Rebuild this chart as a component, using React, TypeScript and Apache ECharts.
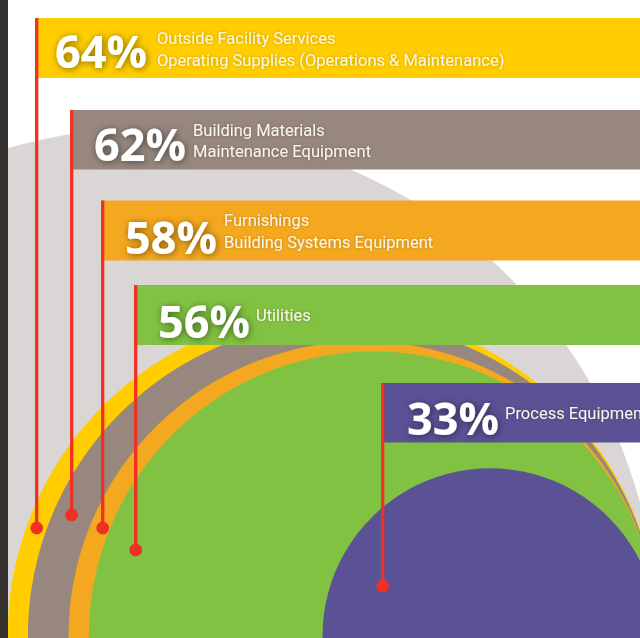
import React, { useEffect, useRef } from "react";
import * as echarts from "echarts";

// ---- data ----
const backgroundPct = 100;
const percentages = [64, 62, 58, 56, 33];
const labelLines: string[][] = [
  ["Outside Facility Services", "Operating Supplies (Operations & Maintenance)"],
  ["Building Materials", "Maintenance Equipment"],
  ["Furnishings", "Building Systems Equipment"],
  ["Utilities"],
  ["Process Equipment"],
];
const colors = ["#FFCD00", "#97877E", "#F4A81F", "#82C242", "#5A5294"];
const backgroundColor = "#DAD6D5";
const red = "#EE3124";

// ---- layout (pixels) ----
const lineX = [36.7, 71.7, 102.7, 135.7, 382.7];
const barTop = [18, 110, 200.5, 285, 383];
const barH = [60, 59.5, 60, 60, 59.5];
const dotY = [528, 515, 528, 550, 586];
const pctX = [55, 94, 125, 158, 407];
const pctY = [50, 143, 236, 320, 417];
const labelX = [157, 193, 224, 256, 505];
const labelY: number[][] = [[38, 60], [130, 151], [220, 242], [315], [413]];

// axis units: circles radius = percentage, all tangent at right
const X_MAX = 126;
const TANGENT_X = 129.5;

export default function App() {
  const ref = useRef<HTMLDivElement>(null);
  useEffect(() => {
    const chart = echarts.init(ref.current!, null, { renderer: "svg" });
    const W = 640, H = 638;
    const yMin = -0.4;
    const yMax = yMin + (H * X_MAX) / W;
    const circleData = [backgroundPct, ...percentages].map((p, i) => ({
      value: [p],
      itemStyle: { color: i === 0 ? backgroundColor : colors[i - 1] },
    }));

    const graphics: any[] = [];
    graphics.push({ type: "rect", z: 100, shape: { x: 0, y: 0, width: 8, height: H }, style: { fill: "#33302D" } });
    percentages.forEach((p, i) => {
      graphics.push({
        type: "rect", z: 100,
        shape: { x: lineX[i] - 1, y: barTop[i], width: W - lineX[i] + 1, height: barH[i] },
        style: { fill: colors[i] },
      });
      graphics.push({
        type: "line", z: 101,
        shape: { x1: lineX[i], y1: barTop[i], x2: lineX[i], y2: dotY[i] },
        style: { stroke: red, lineWidth: 3.3 },
      });
      graphics.push({
        type: "circle", z: 101,
        shape: { cx: lineX[i], cy: dotY[i], r: 6.3 },
        style: { fill: red },
      });
      graphics.push({
        type: "text", z: 102, x: pctX[i], y: pctY[i],
        style: {
          text: p + "%", fill: "#ffffff", font: "bold 45px 'Open Sans'",
          verticalAlign: "middle", align: "left",
          textShadowColor: "rgba(0,0,0,0.5)", textShadowBlur: 7, textShadowOffsetX: 1, textShadowOffsetY: 1,
        },
      });
      labelLines[i].forEach((t, j) => {
        graphics.push({
          type: "text", z: 102, x: labelX[i], y: labelY[i][j],
          style: {
            text: t, fill: "#FAF5E8", font: "16.5px Roboto",
            verticalAlign: "middle", align: "left",
            textShadowColor: "rgba(0,0,0,0.25)", textShadowBlur: 3,
          },
        });
      });
    });

    chart.setOption({
      animation: false,
      backgroundColor: "#ffffff",
      grid: { left: 0, right: 0, top: 0, bottom: 0 },
      xAxis: { type: "value", min: 0, max: X_MAX, show: false },
      yAxis: { type: "value", min: yMin, max: yMax, show: false },
      series: [
        {
          type: "custom",
          coordinateSystem: "cartesian2d",
          clip: false,
          data: circleData,
          renderItem: (params: any, api: any) => {
            const pct = api.value(0);
            const c = api.coord([TANGENT_X - pct, 0]);
            const s = api.size([pct, pct]);
            return {
              type: "circle",
              shape: { cx: c[0], cy: c[1], r: s[0] },
              style: { fill: api.visual("color") },
            };
          },
        },
      ],
      graphic: { elements: graphics },
    });
    return () => chart.dispose();
  }, []);
  return <div ref={ref} style={{ position: "absolute", left: 0, top: 0, width: 640, height: 638 }} />;
}
